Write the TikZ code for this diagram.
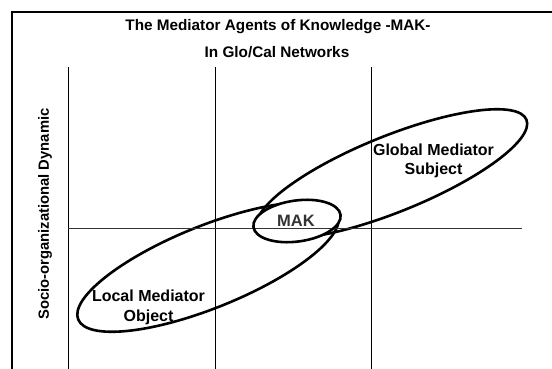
\documentclass[tikz,border=0pt]{standalone}
\usepackage{fontspec}
\setmainfont{Liberation Sans}
\begin{document}
\begin{tikzpicture}[x=1pt,y=-1pt,
  txt/.style={font=\fontsize{15.5}{19.5}\selectfont\bfseries, inner sep=0pt, align=center},
  frameline/.style={line width=1.8pt, draw=black},
  axisline/.style={line width=1pt, draw=black!80},
  gridline/.style={line width=0.9pt, draw=black},
  oval/.style={line width=2.6pt, draw=black}]
\useasboundingbox (0,0) rectangle (552,369);
\fill[white] (0,0) rectangle (552,369);
% frame
\draw[frameline] (12,372) -- (12,12) -- (556,12);
% vertical grid lines
\draw[gridline] (68,67) -- (68,372);
\draw[gridline] (215,67) -- (215,372);
\draw[gridline] (371,67) -- (371,372);
% big ovals
\coordinate (lc) at (208,267);
\coordinate (gc) at (392,174);
\coordinate (mc) at (297,221);
\draw[oval, rotate around={22:(lc)}] (lc) ellipse [x radius=140pt, y radius=41pt];
\draw[oval, rotate around={22:(gc)}] (gc) ellipse [x radius=145pt, y radius=38pt];
\fill[white, rotate around={8:(mc)}] (mc) ellipse [x radius=44pt, y radius=20.5pt];
% horizontal axis
\draw[axisline] (68,228) -- (522,228);
\draw[oval, rotate around={8:(mc)}] (mc) ellipse [x radius=44pt, y radius=20.5pt];
% texts
\node[txt, font=\fontsize{15.3}{19}\selectfont\bfseries] (t1) at (278,27) {The Mediator Agents of Knowledge -MAK-};
\node[txt, font=\fontsize{15.3}{19}\selectfont\bfseries] (t2) at (277,52) {In Glo/Cal Networks};
\node[txt, rotate=90, font=\fontsize{14.8}{19}\selectfont\bfseries] (side) at (45,214) {Socio-organizational Dynamic};
\node[txt, font=\fontsize{16}{20}\selectfont\bfseries] (local) at (148.5,307) {Local Mediator\\Object};
\node[txt, font=\fontsize{16}{19.5}\selectfont\bfseries] (global) at (433.5,161) {Global Mediator\\Subject};
\node[txt, font=\fontsize{16.5}{19}\selectfont\bfseries, text=black!80] (mak) at (296,221) {MAK};
\end{tikzpicture}
\end{document}
